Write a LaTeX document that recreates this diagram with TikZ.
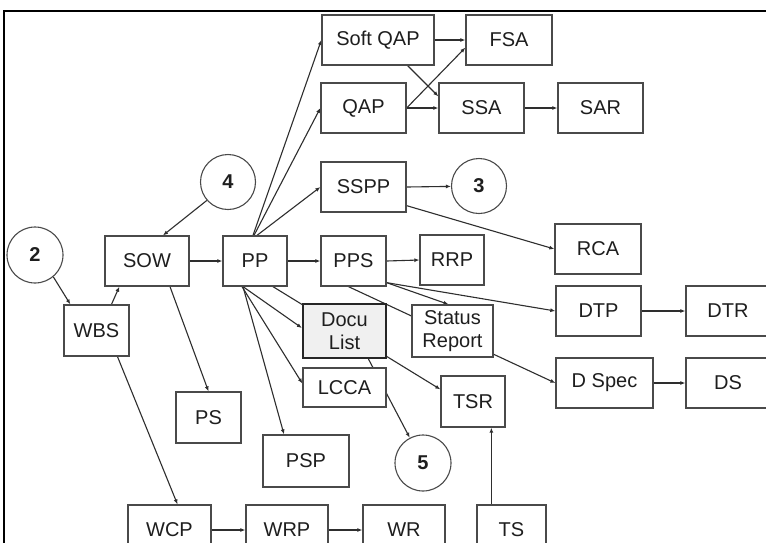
\documentclass[tikz,border=0pt]{standalone}
\usepackage{fontspec}
\setmainfont{Liberation Sans}
\usetikzlibrary{arrows.meta}
\pgfdeclarelayer{paper}
\pgfdeclarelayer{bg}
\pgfsetlayers{paper,bg,main}
\definecolor{edgecol}{HTML}{2E2E2E}
\definecolor{boxcol}{HTML}{4A4A4A}
\definecolor{txtcol}{HTML}{1E1E1E}
\definecolor{docufill}{HTML}{F0F0F0}
\tikzset{
  box/.style={draw=boxcol, line width=1.3pt, fill=white, inner sep=0pt,
    text=txtcol, font=\fontsize{20}{23}\selectfont, align=center},
  docbox/.style={box, line width=2.2pt, draw=black!85, fill=docufill},
  num/.style={circle, draw=boxcol, line width=1.1pt, fill=white, inner sep=0pt,
    minimum size=55pt, text=txtcol, font=\fontsize{20}{23}\selectfont\bfseries},
  arr/.style={draw=edgecol, line width=1.1pt, -{Latex[length=5pt,width=4pt]}},
}
\begin{document}
\begin{tikzpicture}[x=1pt,y=-1pt]
\useasboundingbox (0,0) rectangle (766,542);
\clip (0,0) rectangle (766,542);
\begin{pgfonlayer}{paper}
  \fill[white] (0,0) rectangle (766,542);
\end{pgfonlayer}

% outer frame (left and top edges)
\draw[black, line width=2.6pt] (4,560) -- (4,11) -- (780,11);

% top group
\node[box, minimum width=112pt, minimum height=50pt] (softqap) at (378,40) {Soft QAP};
\node[box, minimum width=86pt, minimum height=50pt] (fsa) at (509,40) {FSA};
\node[box, minimum width=85pt, minimum height=50pt] (qap) at (363.5,108) {QAP};
\node[box, minimum width=85pt, minimum height=50pt] (ssa) at (481.5,108) {SSA};
\node[box, minimum width=85pt, minimum height=50pt] (sar) at (600.5,108) {SAR};
\node[box, minimum width=85pt, minimum height=50pt] (sspp) at (363.5,187) {SSPP};
\node[num] (c3) at (479,186) {3};
\node[box, minimum width=86pt, minimum height=50pt] (rca) at (598,249) {RCA};

% middle row
\node[num] (c4) at (228,182) {4};
\node[num, minimum size=56pt] (c2) at (35,255) {2};
\node[box, minimum width=84pt, minimum height=50pt] (sow) at (147,261) {SOW};
\node[box, minimum width=64pt, minimum height=50pt] (pp) at (255,261) {PP};
\node[box, minimum width=65pt, minimum height=50pt] (pps) at (353.5,261) {PPS};
\node[box, minimum width=64pt, minimum height=50pt] (rrp) at (452,260) {RRP};
\node[box, minimum width=65pt, minimum height=51pt] (wbs) at (96.5,330.5) {WBS};

% documents
\node[docbox, minimum width=83pt, minimum height=54pt] (docu) at (344.5,331) {Docu\\List};
\node[box, minimum width=83pt, minimum height=39pt] (lcca) at (344.5,387.5) {LCCA};
\node[box, minimum width=81pt, minimum height=52pt] (status) at (452.5,331) {Status\\Report};
\node[box, minimum width=64pt, minimum height=51pt] (tsr) at (473,401.5) {TSR};
\node[num, minimum size=56pt] (c5) at (423,463) {5};
\node[box, minimum width=65pt, minimum height=51pt] (ps) at (208.5,417.5) {PS};
\node[box, minimum width=86pt, minimum height=52pt] (psp) at (306,461) {PSP};

% right column
\node[box, minimum width=85pt, minimum height=50pt] (dtp) at (598.5,311) {DTP};
\node[box, minimum width=84pt, minimum height=50pt] (dtr) at (728,311) {DTR};
\node[box, minimum width=97pt, minimum height=50pt] (dspec) at (604.5,383) {D Spec};
\node[box, minimum width=84pt, minimum height=50pt] (ds) at (728,383) {DS};

% bottom row
\node[box, minimum width=83pt, minimum height=50pt] (wcp) at (169.5,530) {WCP};
\node[box, minimum width=82pt, minimum height=50pt] (wrp) at (287,530) {WRP};
\node[box, minimum width=82pt, minimum height=50pt] (wr) at (404,530) {WR};
\node[box, minimum width=69pt, minimum height=50pt] (ts) at (511.5,530) {TS};

\begin{pgfonlayer}{bg}
  % work breakdown side
  \draw[arr] (c2.-50) -- ([xshift=7pt]wbs.north west);
  \draw[arr] ([xshift=15pt]wbs.north) -- ([xshift=15pt]sow.south west);
  \draw[arr] (c4.-139) -- ([xshift=16pt]sow.north);
  \draw[arr] (sow.east) -- (pp.west);
  \draw[arr] ([xshift=23pt]sow.south) -- (ps.north);
  \draw[arr] ([xshift=21pt]wbs.south) -- ([xshift=8pt]wcp.north);

  % project plan fan-out
  \draw[arr] ([xshift=-2pt]pp.north) -- (softqap.west);
  \draw[arr] ([xshift=-1pt]pp.north) -- (qap.west);
  \draw[arr] ([xshift=2pt]pp.north) -- (sspp.west);
  \draw[arr] (pp.east) -- (pps.west);
  \draw[arr] ([xshift=-12pt]pp.south) -- ([yshift=3pt]docu.west);
  \draw[arr] ([xshift=-13pt]pp.south) -- ([yshift=4pt]lcca.west);
  \draw[arr] ([xshift=-12pt]pp.south) -- ([xshift=-22pt]psp.north);
  \draw[arr] ([xshift=18pt]pp.south) -- ([yshift=-14pt]tsr.north west);

  % schedule outputs
  \draw[arr] (pps.east) -- (rrp.west);
  \draw[arr] ([yshift=4pt]pps.south east) -- ([xshift=-4pt]status.north);
  \draw[arr] ([yshift=4pt]pps.south east) -- (dtp.west);
  \draw[arr] ([xshift=-5pt]pps.south) -- (dspec.west);

  % document list feeds connector 5 (runs behind LCCA)
  \draw[arr] ([xshift=24pt]docu.south) -- (c5);

  % quality and safety
  \draw[arr] (sspp.east) -- (c3);
  \draw[arr] ([yshift=7pt]sspp.south east) -- (rca.west);
  \draw[arr] (softqap.east) -- (fsa.west);
  \draw[arr] ([xshift=-27pt]softqap.south east) -- ([yshift=-14pt]ssa.north west);
  \draw[arr] (qap.east) -- ([yshift=18pt]fsa.south west);
  \draw[arr] (qap.east) -- (ssa.west);
  \draw[arr] (ssa.east) -- (sar.west);

  % design chain
  \draw[arr] (dtp.east) -- (dtr.west);
  \draw[arr] (dspec.east) -- (ds.west);

  % bottom chain
  \draw[arr] (wcp.east) -- (wrp.west);
  \draw[arr] (wrp.east) -- (wr.west);
  \draw[arr] ([xshift=15pt]ts.north west) -- ([xshift=15pt]ts.north west |- tsr.south);
\end{pgfonlayer}
\end{tikzpicture}
\end{document}
